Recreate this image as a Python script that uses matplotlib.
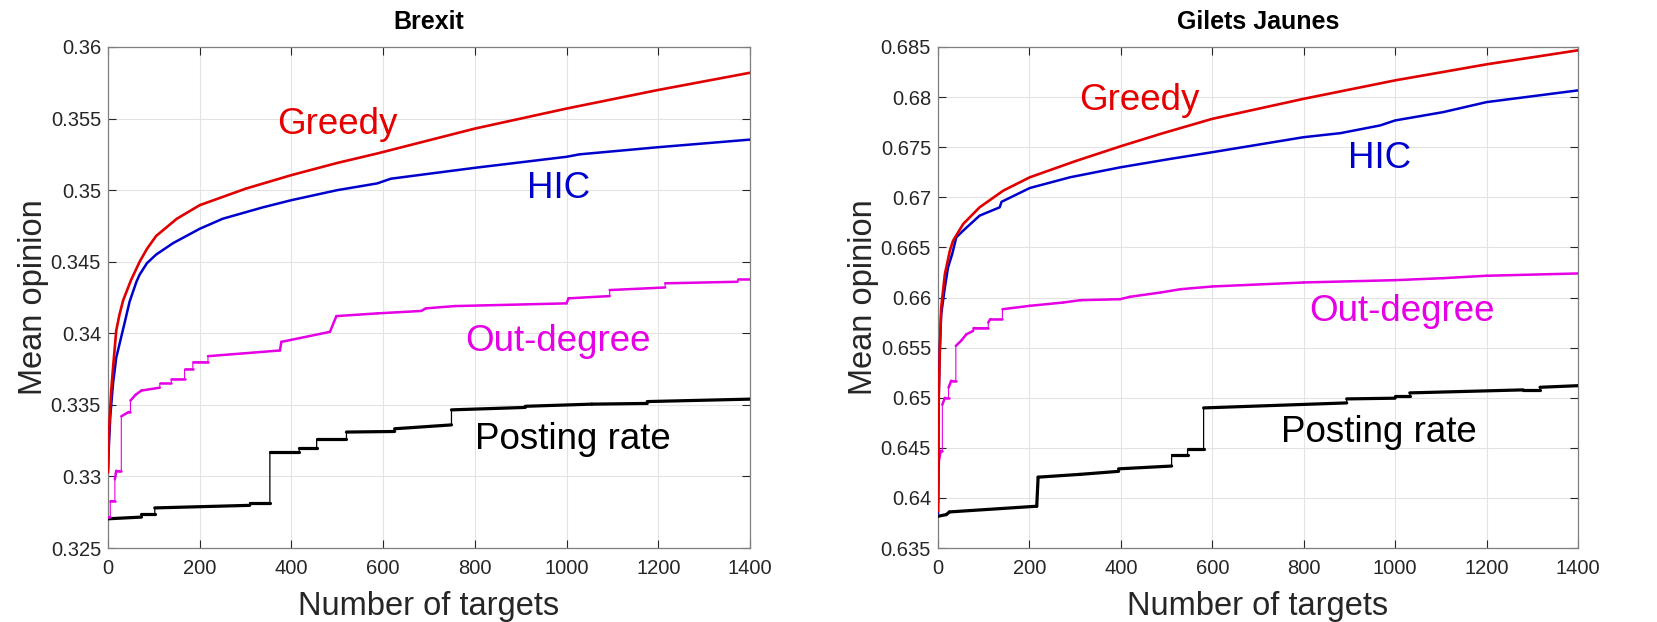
import numpy as np
import matplotlib
matplotlib.use("Agg")
import matplotlib.pyplot as plt
from matplotlib.collections import LineCollection

plt.rcParams['font.family'] = ['Liberation Sans', 'DejaVu Sans']

# ---------------- Brexit ----------------
b_greedy_x = [0, 1, 2, 4, 7, 11, 18, 25, 33, 50, 69, 85, 105, 150, 200, 300, 400, 500, 587, 800, 1000, 1200, 1400]
b_greedy_y = [0.3303, 0.3318, 0.3330, 0.3342, 0.3360, 0.3376, 0.3402, 0.3413, 0.3423, 0.3437, 0.3450, 0.3459,
              0.3468, 0.3480, 0.34895, 0.3501, 0.35105, 0.3519, 0.35256, 0.3543, 0.3557, 0.3570, 0.3582]

b_hic_x = [0, 1.5, 5, 11, 18, 36, 47, 62, 69, 85, 105, 142, 200, 250, 338, 400, 500, 587, 617, 800, 1000, 1028, 1200, 1400]
b_hic_y = [0.3305, 0.3318, 0.3342, 0.3365, 0.3383, 0.3407, 0.3422, 0.3436, 0.3441, 0.3449, 0.3455, 0.3463, 0.3473,
           0.3480, 0.3488, 0.3493, 0.3500, 0.35047, 0.3508, 0.35156, 0.35233, 0.3525, 0.3530, 0.35353]

b_out_x = [0, 5, 5, 15, 15, 18, 29, 29, 45, 49, 49, 60, 73, 113, 113, 138, 138, 167, 167, 185, 185, 218, 218,
           375, 378, 484, 498, 587, 683, 693, 756, 1000, 1004, 1094, 1094, 1215, 1215, 1373, 1373, 1400]
b_out_y = [0.3272, 0.3272, 0.3283, 0.3283, 0.3298, 0.3304, 0.3304, 0.3342, 0.3345, 0.3345, 0.3353, 0.3357,
           0.3360, 0.3362, 0.3365, 0.3365, 0.3368, 0.3368, 0.3375, 0.3375, 0.3380, 0.3380, 0.3384,
           0.3388, 0.3394, 0.3401, 0.3412, 0.34139, 0.34156, 0.34174, 0.3419, 0.34209, 0.34244, 0.3426,
           0.34302, 0.3432, 0.34349, 0.3436, 0.34377, 0.34377]

b_post_x = [0, 73, 73, 102, 102, 309, 309, 353, 353, 417, 417, 455, 455, 520, 520, 625, 625, 749, 749,
            910, 910, 1055, 1176, 1176, 1400]
b_post_y = [0.32704, 0.32716, 0.3274, 0.3274, 0.3278, 0.32798, 0.32816, 0.32816, 0.3317, 0.3317, 0.3320,
            0.3320, 0.3326, 0.3326, 0.3331, 0.33314, 0.33333, 0.3336, 0.33465, 0.33482, 0.33490, 0.33505,
            0.3351, 0.33523, 0.3354]

# ---------------- Gilets Jaunes ----------------
g_greedy_x = [0, 1.5, 4, 7, 15, 26, 33, 55, 91, 143, 201, 300, 400, 487, 600, 800, 1000, 1200, 1400]
g_greedy_y = [0.6387, 0.6497, 0.6547, 0.6590, 0.66233, 0.66467, 0.66567, 0.66733, 0.6690, 0.67067, 0.6720,
              0.6736, 0.6751, 0.67633, 0.67783, 0.67983, 0.68167, 0.68327, 0.68467]

g_hic_x = [0, 1.5, 4, 7, 15, 22, 31, 40, 55, 91, 135, 139, 201, 289, 400, 508, 600, 800, 880, 967, 1000,
           1105, 1200, 1400]
g_hic_y = [0.6385, 0.6500, 0.6550, 0.65833, 0.6610, 0.6630, 0.66433, 0.6660, 0.66667, 0.66817, 0.6690,
           0.66955, 0.67093, 0.6720, 0.6730, 0.67383, 0.6745, 0.6760, 0.6764, 0.67717, 0.67767, 0.6785,
           0.6795, 0.68067]

g_out_x = [0, 2, 6, 9.5, 9.5, 15, 23, 23, 29, 39, 39, 51, 62, 77, 77, 110, 110, 114, 141, 141, 201, 274,
           311, 398, 420, 487, 531, 600, 800, 1000, 1105, 1200, 1400]
g_out_y = [0.6395, 0.6437, 0.6447, 0.6447, 0.6493, 0.6500, 0.6500, 0.6510, 0.6517, 0.6517, 0.65517,
           0.6557, 0.65633, 0.65667, 0.6570, 0.6570, 0.6575, 0.65783, 0.65783, 0.65883, 0.65917, 0.6595,
           0.65973, 0.65983, 0.66007, 0.6605, 0.66083, 0.6611, 0.6615, 0.66173, 0.66193, 0.66217, 0.6624]

g_post_x = [0, 18, 25, 216, 219, 311, 395, 395, 511, 511, 546, 546, 581, 581, 894, 894, 1000, 1000,
            1032, 1032, 1280, 1317, 1317, 1400]
g_post_y = [0.63817, 0.63833, 0.6386, 0.63917, 0.64207, 0.64235, 0.64265, 0.6429, 0.64318, 0.6443,
            0.6443, 0.64487, 0.64487, 0.64898, 0.64948, 0.64988, 0.64995, 0.65015, 0.65015, 0.65048,
            0.65078, 0.65078, 0.65104, 0.6512]

titles = ["Brexit", "Gilets Jaunes"]
ylims = [(0.325, 0.36), (0.635, 0.685)]
xticks = [0, 200, 400, 600, 800, 1000, 1200, 1400]

# label positions (data coords)
labels_b = {"Greedy": (500, 0.3546), "HIC": (983, 0.3501), "Out-degree": (982, 0.3394),
            "Posting rate": (1013, 0.3326)}
labels_g = {"Greedy": (440, 0.6797), "HIC": (967, 0.6739), "Out-degree": (1016, 0.6586),
            "Posting rate": (965, 0.6465)}

C_RED = '#e00000'
C_BLUE = '#0000cc'
C_MAG = '#e600e6'
C_BLK = '#000000'
TXT = {"Greedy": '#e60000', "HIC": '#0000cc', "Out-degree": '#e600e6', "Posting rate": '#000000'}

W, H = 1657, 622
fig = plt.figure(figsize=(W / 100, H / 100), dpi=100)
ax1 = fig.add_axes([108 / W, 1 - 548 / H, 642 / W, 501 / H])
ax2 = fig.add_axes([938 / W, 1 - 548 / H, 640 / W, 501 / H])


def step_line(ax, x, y, color, thick, thin):
    x = np.asarray(x, float)
    y = np.asarray(y, float)
    ax.plot(x, y, color=color, lw=thin, zorder=3)
    segs = [[(x[i], y[i]), (x[i + 1], y[i + 1])] for i in range(len(x) - 1) if x[i + 1] > x[i]]
    ax.add_collection(LineCollection(segs, colors=color, linewidths=thick, capstyle='round', zorder=4))


datasets = [
    (b_greedy_x, b_greedy_y, b_hic_x, b_hic_y, b_out_x, b_out_y, b_post_x, b_post_y, labels_b),
    (g_greedy_x, g_greedy_y, g_hic_x, g_hic_y, g_out_x, g_out_y, g_post_x, g_post_y, labels_g),
]

for ax, title, ylim, d in zip([ax1, ax2], titles, ylims, datasets):
    gx, gy, hx, hy, ox, oy, px, py, labs = d
    step_line(ax, px, py, C_BLK, 2.3, 0.9)
    step_line(ax, ox, oy, C_MAG, 1.8, 0.8)
    ax.plot(hx, hy, color=C_BLUE, lw=1.8, zorder=5)
    ax.plot(gx, gy, color=C_RED, lw=1.9, zorder=6)

    ax.set_xlim(0, 1400)
    ax.set_ylim(*ylim)
    ax.set_xticks(xticks)
    yt = np.round(np.arange(ylim[0], ylim[1] + 1e-9, 0.005), 3)
    ax.set_yticks(yt)
    ax.set_yticklabels([f"{v:g}" for v in yt])
    ax.grid(True, color='#e3e3e3', lw=0.8)
    ax.set_axisbelow(True)
    ax.tick_params(direction='in', top=True, right=True, length=6, width=0.8,
                   colors='#262626', labelsize=14.5)
    ax.tick_params(axis='x', pad=8)
    ax.tick_params(axis='y', pad=5)
    for sp in ax.spines.values():
        sp.set_color('#7f7f7f')
        sp.set_linewidth(0.9)
    ax.set_title(title, fontsize=18, fontweight='bold', pad=13)
    ax.set_xlabel("Number of targets", fontsize=23.5, color='#262626')
    ax.set_ylabel("Mean opinion", fontsize=23.5, color='#262626')
    ax.xaxis.set_label_coords(0.5, -0.085)
    ax.yaxis.set_label_coords(-0.092, 0.5)

    for name, (lx, ly) in labs.items():
        ax.text(lx, ly, name, color=TXT[name], fontsize=26.5, ha='center', va='center', zorder=7)

fig.savefig("out.png", dpi=100)
